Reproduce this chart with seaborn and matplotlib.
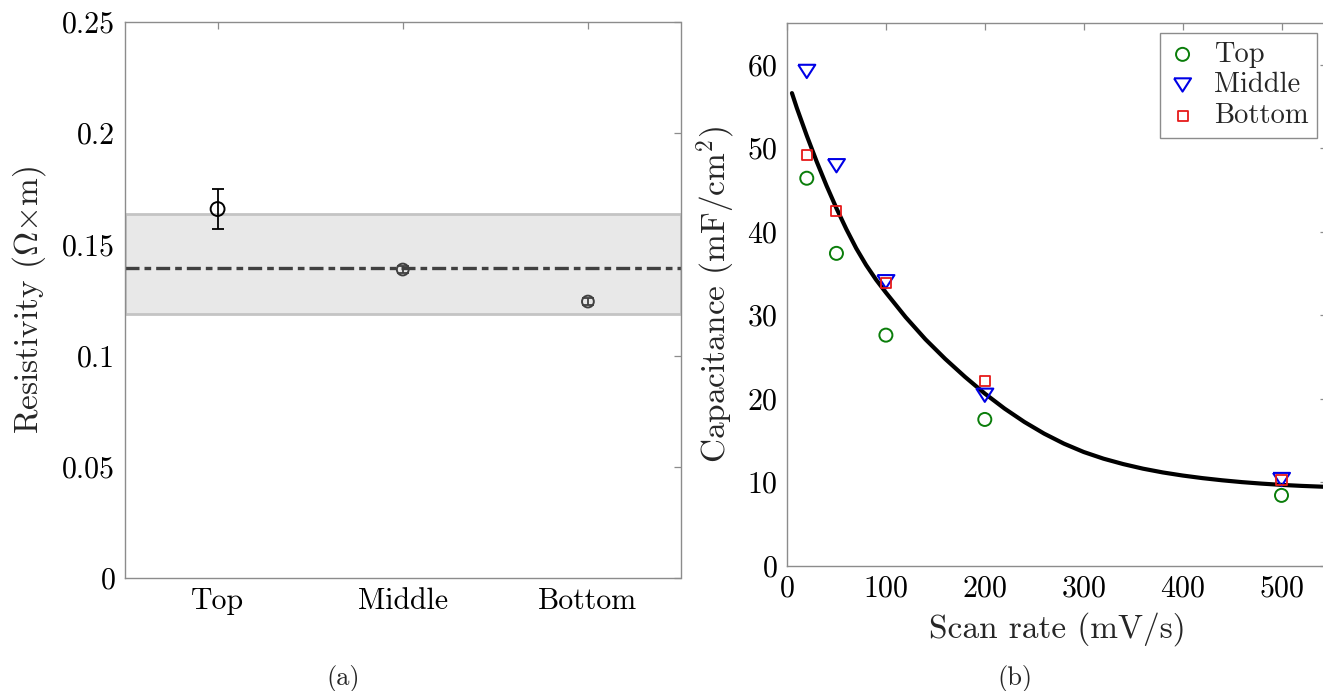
import numpy as np
import pandas as pd
import matplotlib
matplotlib.use("Agg")
import matplotlib.pyplot as plt
import seaborn as sns

# ---------------- data ----------------
positions = ["Top", "Middle", "Bottom"]
resistivity = [0.1659, 0.1387, 0.1243]
resistivity_err = [0.0090, 0.0015, 0.0017]
mean_resistivity = 0.1395
band_low = 0.1186
band_high = 0.1635

scan_rate = [20, 50, 100, 200, 500]
cap_top = [46.4, 37.4, 27.6, 17.5, 8.4]
cap_middle = [59.2, 47.9, 34.0, 20.4, 10.3]
cap_bottom = [49.2, 42.5, 33.9, 22.1, 10.2]

fit_rate = [5, 10, 20, 30, 40, 50, 60, 70, 80, 90, 100, 120, 140, 160, 180,
            200, 220, 240, 260, 280, 300, 320, 340, 360, 380, 400, 420, 440,
            460, 480, 500, 520, 546]
fit_cap = [56.6, 54.8, 51.5, 48.4, 45.5, 42.8, 40.3, 38.0, 36.0, 34.25, 32.7,
           29.75, 27.1, 24.75, 22.6, 20.6, 18.8, 17.2, 15.8, 14.6, 13.6, 12.8,
           12.15, 11.6, 11.15, 10.78, 10.47, 10.21, 9.99, 9.81, 9.66, 9.54,
           9.42]

y1_ticks = [0, 0.05, 0.1, 0.15, 0.2, 0.25]
y1_labels = ["0", "0.05", "0.1", "0.15", "0.2", "0.25"]
x2_ticks = [0, 100, 200, 300, 400, 500]
y2_ticks = [0, 10, 20, 30, 40, 50, 60]

# ---------------- style ----------------
sns.set_theme(style="white")
plt.rcParams["font.family"] = ["cmr10", "DejaVu Serif"]
plt.rcParams["mathtext.fontset"] = "cm"
plt.rcParams["axes.formatter.use_mathtext"] = True
plt.rcParams["axes.unicode_minus"] = False

SPINE = "#8c8c8c"
TICK_FS = 21.5
LABEL_FS = 24

W, H = 1323, 691
fig = plt.figure(figsize=(W / 100, H / 100), dpi=100)
ax1 = fig.add_axes([125 / W, 1 - 578 / H, 555.5 / W, 556 / H])
ax2 = fig.add_axes([787 / W, 1 - 565.5 / H, 540 / W, 542.5 / H])


def style_axes(ax):
    for s in ax.spines.values():
        s.set_color(SPINE)
        s.set_linewidth(1.0)
    ax.tick_params(direction="in", length=5, width=0.9, color=SPINE,
                   top=True, right=True, labelsize=TICK_FS, labelcolor="black",
                   pad=7)


# ---------------- panel (a) ----------------
xpos = np.arange(1, len(positions) + 1)
ax1.axhspan(band_low, band_high, facecolor="#e8e8e8", edgecolor="#c4c4c4",
            linewidth=2.0, zorder=1)
ax1.axhline(mean_resistivity, color="#404040", linewidth=2.4,
            dashes=(4.2, 1.5, 2.0, 1.5), zorder=2)

point_colors = ["black", "#404040", "#404040"]
point_sizes = [10, 8.5, 8.5]
for i in range(len(positions)):
    ax1.errorbar(xpos[i], resistivity[i], yerr=resistivity_err[i], fmt="none",
                 ecolor=point_colors[i], elinewidth=1.3, capsize=4,
                 capthick=1.3, zorder=3)
    sns.scatterplot(x=[xpos[i]], y=[resistivity[i]], ax=ax1, marker="o",
                    s=point_sizes[i] ** 2, facecolor="none",
                    edgecolor=point_colors[i], linewidth=1.4, zorder=4,
                    legend=False)

ax1.set_xlim(0.5, 3.5)
ax1.set_ylim(0, 0.25)
ax1.set_xticks(xpos)
ax1.set_xticklabels(positions)
ax1.set_yticks(y1_ticks)
ax1.set_yticklabels(y1_labels)
ax1.set_ylabel(r"Resistivity ($\Omega{\times}$m)", fontsize=LABEL_FS, labelpad=10)
ax1.set_xlabel("")
style_axes(ax1)

# ---------------- panel (b) ----------------
tri = [(-1, 0.78), (1, 0.78), (0, -0.78), (-1, 0.78)]
sns.lineplot(x=fit_rate, y=fit_cap, ax=ax2, color="black", linewidth=3.0,
             zorder=2, legend=False)
sns.scatterplot(x=scan_rate, y=cap_top, ax=ax2, marker="o", s=88,
                facecolor="none", edgecolor="#0a7d0a", linewidth=1.4,
                label="Top", zorder=3)
sns.scatterplot(x=scan_rate, y=cap_middle, ax=ax2, marker=tri, s=150,
                facecolor="none", edgecolor="#0000e6", linewidth=1.5,
                label="Middle", zorder=3)
sns.scatterplot(x=scan_rate, y=cap_bottom, ax=ax2, marker="s", s=52,
                facecolor="none", edgecolor="#e61a1a", linewidth=1.3,
                label="Bottom", zorder=3)

ax2.set_xlim(0, 546)
ax2.set_ylim(0, 65)
ax2.set_xticks(x2_ticks)
ax2.set_yticks(y2_ticks)
ax2.set_xlabel("Scan rate (mV/s)", fontsize=LABEL_FS, labelpad=7)
ax2.set_ylabel(r"Capacitance (mF/cm$^2$)", fontsize=LABEL_FS, labelpad=6)
style_axes(ax2)

leg = ax2.legend(loc="upper right", fontsize=20.5, frameon=True, fancybox=False,
                 edgecolor=SPINE, framealpha=1, borderaxespad=0.35,
                 handlelength=1.0, handletextpad=0.6, borderpad=0.3,
                 labelspacing=0.15)
leg.get_frame().set_linewidth(1.0)

fig.text(343 / W, 1 - 678 / H, "(a)", ha="center", va="center", fontsize=19)
fig.text(1015 / W, 1 - 678 / H, "(b)", ha="center", va="center", fontsize=19)

fig.savefig("out.png", dpi=100)
